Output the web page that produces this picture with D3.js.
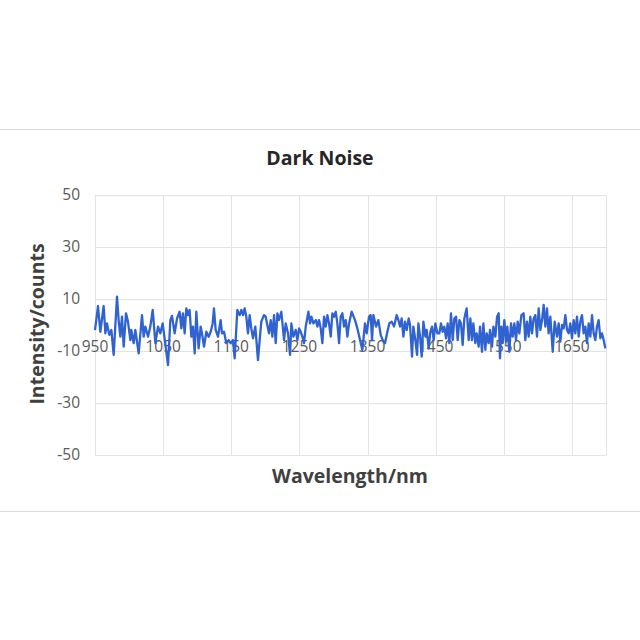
<!DOCTYPE html>
<html><head><meta charset="utf-8">
<script src="https://cdn.jsdelivr.net/npm/d3@7/dist/d3.min.js"></script>
<style>body{margin:0;background:#fff}svg{display:block}</style></head>
<body><svg id="chart" width="640" height="640"></svg>
<script>
const wavelengths = [
950,954.4,957.8,962.7,965.2,967.6,971,974,977.4,982.3,984.7,987.2,989.6,992.1,995.5,998.4,1001.9,1003.3,1006.8,1009.2,
1014.1,1019,1021.4,1023.9,1027.8,1031.2,1034.7,1038.6,1042.5,1045.9,1049.3,1057.2,1060.6,1063,1066.9,1070.4,
1074.2,1076.7,1079.1,1081.6,1084,1086.5,1088.9,1091.4,1093.8,1096.3,1098.7,1102.1,1105.1,1107,1110,1113.4,1116.8,1119.8,
1122.7,1124.6,1127.1,1130.5,1134.4,1136.4,1139.3,1142.7,1146.2,1149.1,1152.5,1155,1158.9,1162.3,1164.8,1167.2,1169.7,
1172.1,1174.5,1177,1179.4,1181.9,1185.3,1189.2,1191.7,1194.1,1198,
1200.5,1205.4,1207.9,1210.3,1212.8,1215.2,1217.7,1220.1,1223.5,1227.5,1229.9,1233.3,1236.3,1238.2,1241.2,1244.6,1247,
1249.5,1251.9,1254.4,1256.8,1259.3,1263.2,1265.6,1267.6,1270.5,1274,1276.4,1278.8,1281.3,1283.7,1286.2,1288.6,1291.1,
1293.5,1296,1298.4,1300.9,1303.3,1305.7,1308.2,1310.6,1313.1,1315.5,1318,1320.4,1322.9,
1326.7,1331.6,1335.1,1339,1342.4,1346.3,1348.8,1352.2,1354.6,1356.6,1358.6,1362.5,1365.9,1369.3,1372.3,1375.7,1379.1,
1382,1385.5,1388.9,1392.8,1395.3,1397.7,1400.1,1402.6,1405,1407.5,1410.4,1412.4,1415.3,1417.3,1420.2,1422.7,1424.6,
1427.1,1429.5,1432,1434.9,1436.8,1439.8,1442.2,1444.7,1447.1,1449.6,1452.5,
1455.4,1457.8,1460.3,1462.7,1465.2,1467.6,1470.1,1472.5,1475,1477.4,1479.9,1482.3,1484.8,1487.2,1489.6,1492.1,1495.5,
1498.5,1500.9,1503.3,1505.3,1508.2,1510.2,1513.1,1515.1,1518,1520,1522.9,1524.9,1527.8,1529.8,1532.7,1534.7,1537.6,
1540.1,1542.5,1544.4,1546.4,1548.4,1550.8,1553.3,1555.2,1558.1,1560.6,1563,1565.5,1567.9,1570.4,1572.8,1575.8,
1579.1,1581.6,1584,1586.5,1588.9,1591.4,1593.8,1596.3,1598.7,1601.2,1603.6,1606.1,1608.5,1611,1613.4,1615.8,1618.3,
1621.8,1624.7,1628.1,1630.5,1633,1635.4,1637.9,1640.3,1642.8,1645.2,1647.6,1650.1,1652.5,1655,1657.4,1659.9,1662.3,
1664.8,1667.2,1669.7,1672.1,1674.6,1677,1679.5,1681.9,1684.3,1686.8,1689.2,1691.7,1694.1,1696.6,1699
];
const intensities = [
-2,7.3,-2.6,7.3,-3.2,0.6,-3.8,-1.9,-11.5,10.9,1.9,-4.5,3.2,-8.3,4.5,1.3,-5.8,-1.9,-7,-1.9,
-10.9,3.8,-4.5,-0.6,-4.5,-0.6,5.8,-7,-0.6,-3.2,0.6,-15.4,1.9,3.5,-3.2,2.5,
5.1,-1.3,4.5,-3.2,6.4,3.8,5.8,-4.5,-0.6,-10.9,5.1,-9,-0.6,-3.2,-8.3,-2.6,-4.5,-2.6,
0.6,6.4,-1.9,-4.5,1.9,-3.2,-2.6,-7,-5.8,-7,-5.8,-12.8,5.8,3.8,5.8,3.8,6.4,
3.2,-3.2,3.8,-1.3,-5.1,-0.6,-13.5,-5.8,1.3,3.8,
3.2,-3.2,1.9,-4.5,3.8,-7,4.5,1.9,5.1,-5.8,0.6,-3.2,-11.5,0.6,-4.5,-1.9,-5.8,
-1.3,-2.6,-4.5,-7,-0.6,5.1,0.6,3.2,0.6,1.9,-0.6,1.9,-1.3,-7,3.2,-0.6,3.8,
0.6,-4.5,4.5,3.2,5.1,0.6,-7,3.2,4.5,-0.6,1.9,-4.5,0.6,
5.1,1.9,-1.3,-5.8,-9.6,0.6,-3.2,3.2,3.8,-5.8,3.8,-0.6,1.9,-3.8,-5.8,-7,-2.6,
0.6,1.3,-0.6,3.8,1.9,-0.6,2.5,-4.5,1.3,-1.9,2.5,0,-12.2,-0.6,-5.8,-11.5,0.6,
-4.5,-12.2,1.3,-4.5,-1.9,-9,-2.6,-0.6,-5.8,0.6,-3.2,
-3.2,0.6,-2.6,-0.6,-5.1,0.6,-7,4.5,-5.8,2.5,3.2,-5.8,1.9,0.6,-7.7,2.5,6.4,
-5.8,2.5,-5.8,0.6,-7,-3.2,-8.3,-0.6,-10.3,0.6,-9.6,-3.2,-7,-1.9,-8.3,-0.6,-4.5,
3.2,4.5,-12.8,-0.6,-7,1.9,-6.4,-0.6,-10.3,0.6,-4.5,0.6,-5.8,1.3,-3.2,3.8,
4.5,-5.8,1.3,-4.5,3.2,-3.2,2.5,3.8,-4.5,6.4,-1.9,1.9,7.7,-0.6,6.4,-3.2,3.2,
-10.3,1.3,-4.5,0.6,-6.4,0,-1.3,3.8,-1.9,-3.2,0.6,-5.1,1.9,-3.2,3.2,-4.5,1.3,
3.8,-3.2,-0.6,-7,0.6,-4.5,3.8,-3.2,-5.8,-0.6,1.9,-5.1,-3.2,-5.8,-9
];
const xTicks = [950,1050,1150,1250,1350,1450,1550,1650];
const yTicks = [50,30,10,-10,-30,-50];
const titleText = "Dark Noise";
const xTitleText = "Wavelength/nm";
const yTitleText = "Intensity/counts";

const svg = d3.select("#chart");
const font = "'Open Sans', 'Noto Sans', sans-serif";
const x = d3.scaleLinear().domain([950,1700]).range([95,606]);
const y = d3.scaleLinear().domain([-50,50]).range([455,195]);

// separators
svg.append("line").attr("x1",0).attr("x2",640).attr("y1",129.5).attr("y2",129.5).attr("stroke","#d9d9d9");
svg.append("line").attr("x1",0).attr("x2",640).attr("y1",511.5).attr("y2",511.5).attr("stroke","#d9d9d9");

// grid
const g = svg.append("g");
g.selectAll("line.h").data(yTicks).join("line").attr("class","h")
  .attr("x1",x(950)).attr("x2",x(1700))
  .attr("y1",d=>Math.round(y(d))+0.5).attr("y2",d=>Math.round(y(d))+0.5)
  .attr("stroke","#e3e3e3").attr("stroke-width",1);
g.selectAll("line.v").data(xTicks.concat([1700])).join("line").attr("class","v")
  .attr("y1",y(50)).attr("y2",y(-50))
  .attr("x1",d=>Math.round(x(d))+0.5).attr("x2",d=>Math.round(x(d))+0.5)
  .attr("stroke","#e3e3e3").attr("stroke-width",1);

// y tick labels
svg.append("g").selectAll("text").data(yTicks).join("text")
  .attr("x",80).attr("y",d=>y(d)).attr("dy","0.35em")
  .attr("text-anchor","end").attr("font-family",font).attr("font-size",15.5)
  .attr("fill","#595959").text(d=>d);

// x tick labels (on the -10 line)
svg.append("g").selectAll("text").data(xTicks).join("text")
  .attr("x",d=>x(d)).attr("y",y(-10)+1)
  .attr("text-anchor","middle").attr("font-family",font).attr("font-size",15.5)
  .attr("fill","#595959").text(d=>d);

// line
const line = d3.line().x((d,i)=>x(wavelengths[i])).y(d=>y(d));
svg.append("path").datum(intensities).attr("d",line)
  .attr("fill","none").attr("stroke","#3062d0").attr("stroke-width",2.3)
  .attr("stroke-linejoin","round");

// titles
svg.append("text").attr("x",320).attr("y",165).attr("text-anchor","middle")
  .attr("font-family",font).attr("font-weight","bold").attr("font-size",19.5)
  .attr("fill","#262626").text(titleText);
svg.append("text").attr("x",350).attr("y",483).attr("text-anchor","middle")
  .attr("font-family",font).attr("font-weight","bold").attr("font-size",19.5)
  .attr("fill","#404040").text(xTitleText);
svg.append("text").attr("transform","translate(44,324) rotate(-90)").attr("text-anchor","middle")
  .attr("font-family",font).attr("font-weight","bold").attr("font-size",19.5)
  .attr("fill","#404040").text(yTitleText);
</script></body></html>
